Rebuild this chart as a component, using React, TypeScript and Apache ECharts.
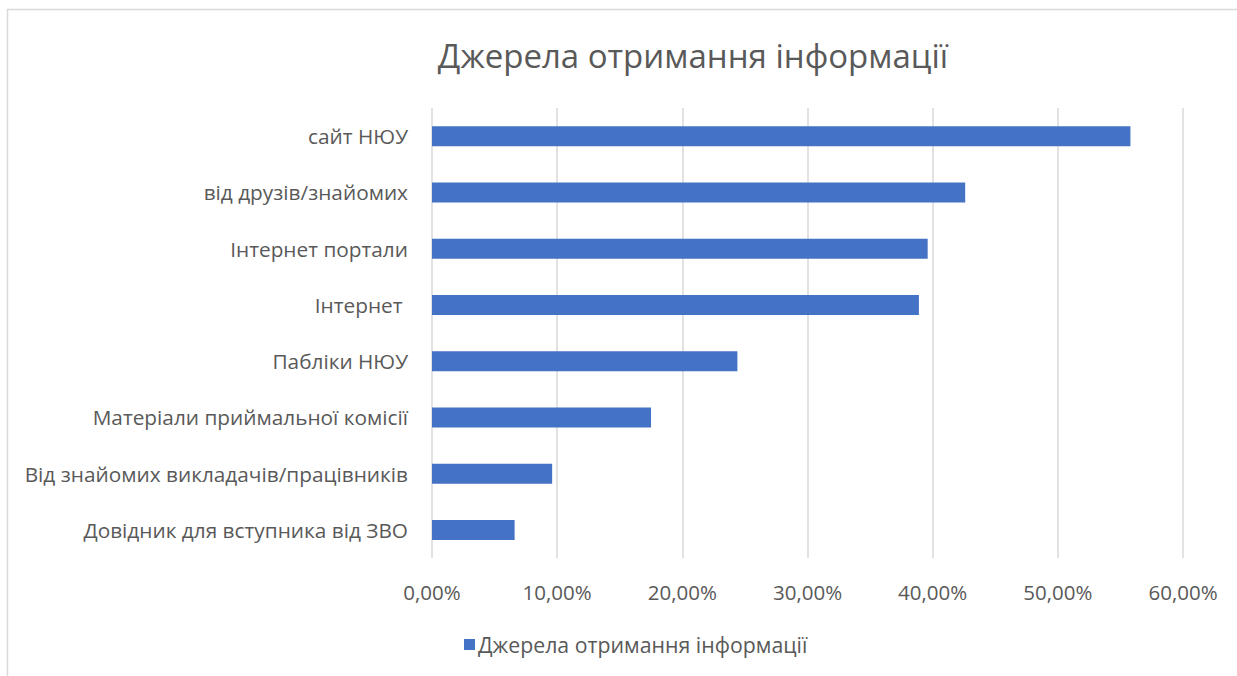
import React, { useEffect, useRef } from "react";
import * as echarts from "echarts";

const categories = [
  "сайт НЮУ",
  "від друзів/знайомих",
  "Інтернет портали",
  "Інтернет ",
  "Пабліки НЮУ",
  "Матеріали приймальної комісії",
  "Від знайомих викладачів/працівників",
  "Довідник для вступника від ЗВО",
];
const values = [55.8, 42.6, 39.6, 38.9, 24.4, 17.5, 9.6, 6.6];
const seriesName = "Джерела отримання інформації";
const titleText = "Джерела отримання інформації";
const axisMin = 0;
const axisMax = 60;
const axisStep = 10;

const FONT = "'Open Sans', 'Noto Sans', sans-serif";
const TEXT = "#595959";

export default function App() {
  const ref = useRef<HTMLDivElement>(null);
  useEffect(() => {
    if (!ref.current) return;
    const chart = echarts.init(ref.current, undefined, { renderer: "svg" });
    chart.setOption({
      animation: false,
      backgroundColor: "#ffffff",
      title: {
        text: titleText,
        left: 688,
        top: 34,
        textAlign: "center",
        textStyle: { fontFamily: FONT, fontSize: 33, fontWeight: "normal", color: TEXT },
      },
      legend: {
        data: [seriesName],
        left: 459,
        top: 629,
        icon: "rect",
        itemWidth: 11,
        itemHeight: 11,
        itemGap: 4,
        textStyle: { fontFamily: FONT, fontSize: 21.3, color: TEXT, padding: [0, 0, 0, -2] },
      },
      grid: { left: 432, right: 54, top: 108, bottom: 118, containLabel: false },
      xAxis: {
        type: "value",
        min: axisMin,
        max: axisMax,
        interval: axisStep,
        axisLine: { show: false },
        axisTick: { show: false },
        splitLine: { show: true, lineStyle: { color: "#D9D9D9", width: 1.5 } },
        axisLabel: {
          margin: 23,
          fontFamily: FONT,
          fontSize: 20.5,
          color: TEXT,
          formatter: (v: number) => v.toFixed(2).replace(".", ",") + "%",
        },
      },
      yAxis: {
        type: "category",
        data: categories,
        inverse: true,
        axisLine: { show: false },
        axisTick: { show: false },
        splitLine: { show: false },
        axisLabel: { margin: 24, fontFamily: FONT, fontSize: 20.8, color: TEXT },
      },
      series: [
        {
          name: seriesName,
          type: "bar",
          data: values,
          barWidth: 20,
          itemStyle: { color: "#4472C4" },
        },
      ],
      graphic: [
        {
          type: "line",
          shape: { x1: 7.5, y1: 9, x2: 7.5, y2: 676 },
          style: { stroke: "#D9D9D9", lineWidth: 1.5 },
          silent: true,
        },
        {
          type: "line",
          shape: { x1: 7, y1: 9.5, x2: 1237, y2: 9.5 },
          style: { stroke: "#D9D9D9", lineWidth: 1.5 },
          silent: true,
        },
      ],
    });
    return () => chart.dispose();
  }, []);
  return (
    <div
      ref={ref}
      style={{ position: "fixed", left: 0, top: 0, width: 1237, height: 676, background: "#fff" }}
    />
  );
}
